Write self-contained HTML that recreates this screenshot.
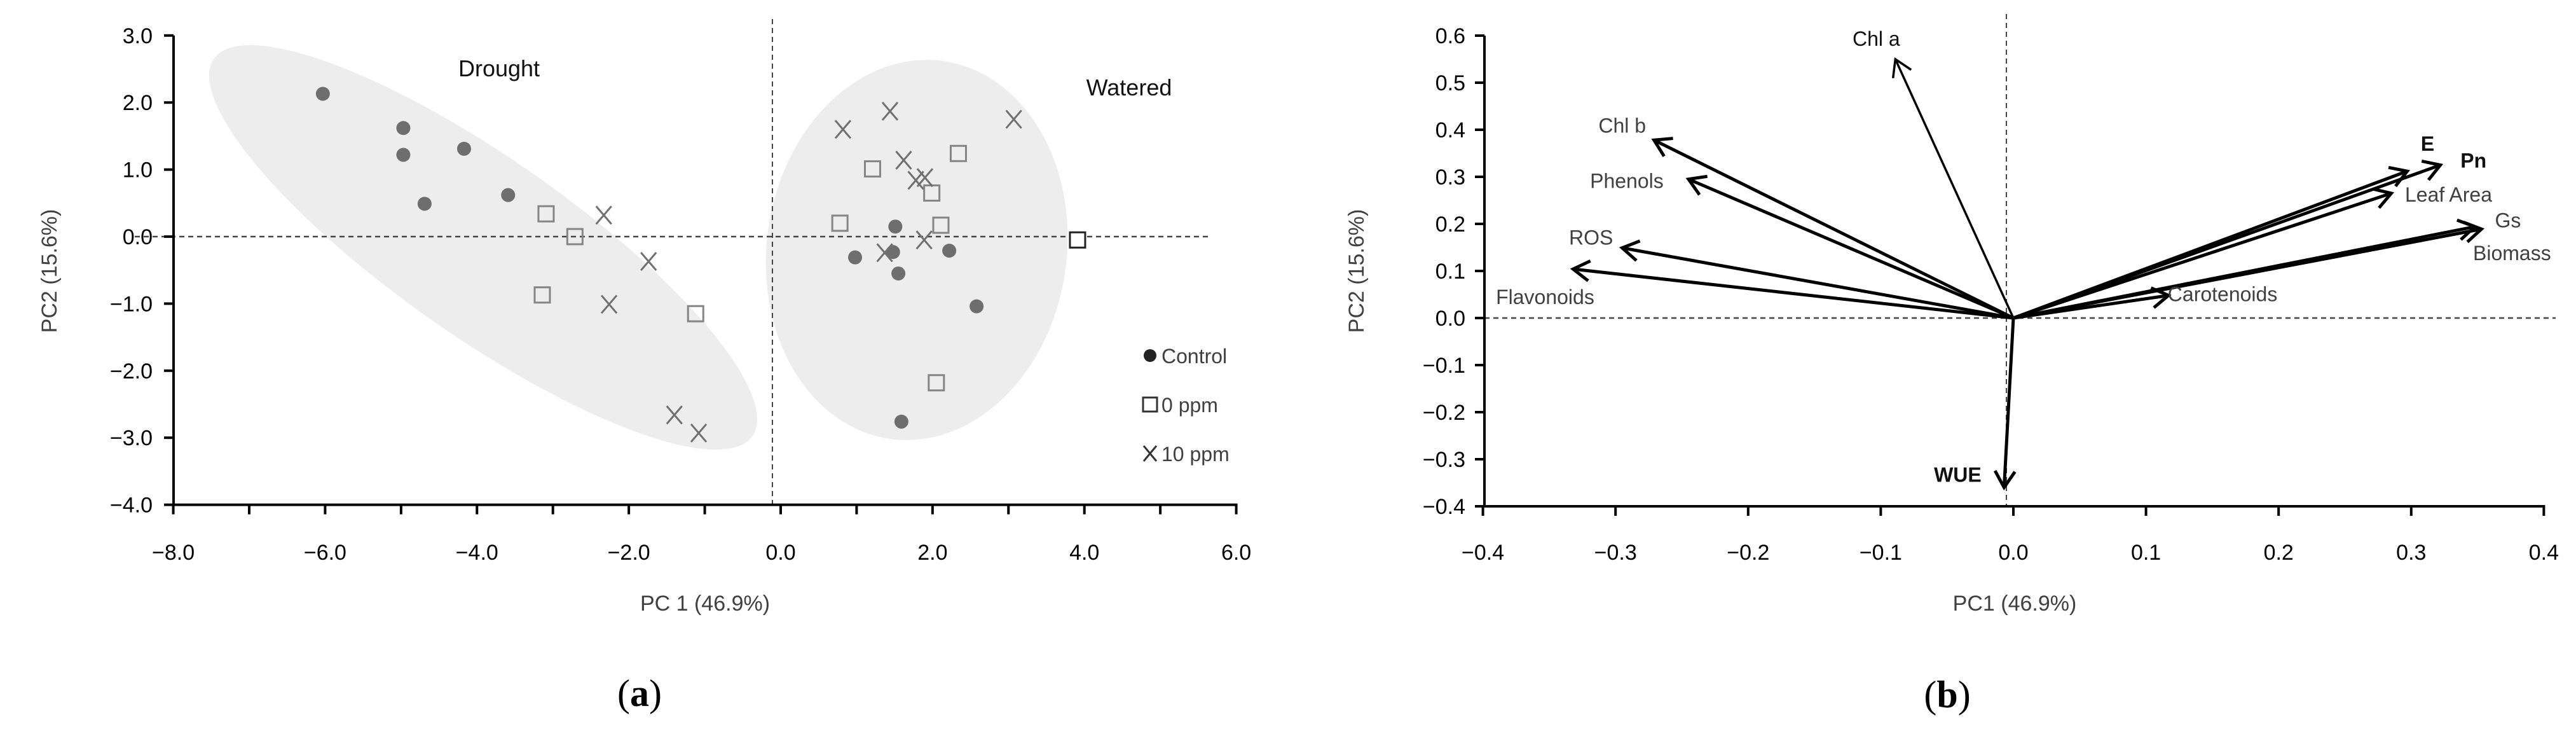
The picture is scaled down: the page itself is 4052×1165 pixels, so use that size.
<!DOCTYPE html>
<html><head><meta charset="utf-8"><style>
html,body{margin:0;padding:0;background:#fff;}
svg{display:block;font-family:"Liberation Sans",sans-serif;}
</style></head><body>
<svg id="fig" width="4052" height="1165" viewBox="0 0 4052 1165" xmlns="http://www.w3.org/2000/svg">
<g id="pa"></g>
<g id="pb"></g>
</svg>
<script>
// ---- Panel (a) data ----
const controlX = [-6.03,-4.97,-4.97,-4.17,-4.69,-3.59,1.51,0.98,1.48,1.55,2.22,2.58,1.59];
const controlY = [2.13,1.62,1.22,1.31,0.49,0.62,0.15,-0.31,-0.23,-0.55,-0.21,-1.04,-2.76];
const ppm0X = [-3.09,-2.71,-3.14,-1.12,0.78,1.21,1.99,2.11,2.34,2.05];
const ppm0Y = [0.34,0.0,-0.87,-1.15,0.20,1.01,0.65,0.17,1.24,-2.18];
const outlierX = [3.91];
const outlierY = [-0.05];
const ppm10X = [-2.33,-1.74,-2.26,-1.40,-1.08,0.82,1.44,1.62,1.78,1.90,1.89,1.37,3.07];
const ppm10Y = [0.32,-0.37,-1.01,-2.66,-2.93,1.60,1.87,1.14,0.84,0.88,-0.05,-0.24,1.75];
const aXTicks = ["-8.0","-6.0","-4.0","-2.0","0.0","2.0","4.0","6.0"];
const aYTicks = ["3.0","2.0","1.0","0.0","-1.0","-2.0","-3.0","-4.0"];
// ---- Panel (b) data ----
const loadNames = ["Chl a","Chl b","Phenols","ROS","Flavonoids","WUE","E","Pn","Leaf Area","Gs","Biomass","Carotenoids"];
const loadPC1 = [-0.089,-0.271,-0.245,-0.295,-0.332,-0.007,0.297,0.322,0.285,0.348,0.353,0.117];
const loadPC2 = [0.55,0.378,0.295,0.149,0.104,-0.36,0.312,0.325,0.265,0.194,0.189,0.048];
const bXTicks = ["-0.4","-0.3","-0.2","-0.1","0.0","0.1","0.2","0.3","0.4"];
const bYTicks = ["0.6","0.5","0.4","0.3","0.2","0.1","0.0","-0.1","-0.2","-0.3","-0.4"];

const NS="http://www.w3.org/2000/svg";
function mk(parent,tag,attrs,text){const e=document.createElementNS(NS,tag);for(const k in attrs)e.setAttribute(k,attrs[k]);if(text!==undefined)e.textContent=text;parent.appendChild(e);return e;}
const minus=s=>s.replace("-","\u2212");

// ===== Panel A =====
const A=document.getElementById('pa');
const ax=v=>1228+v*119.43, ay=v=>372-v*105.4;
let e;
e=mk(A,'ellipse',{cx:760,cy:389,rx:517,ry:140,transform:'rotate(35 760 389)',fill:'#ededed'});


e=mk(A,'ellipse',{cx:1442,cy:393,rx:236,ry:300,transform:'rotate(8 1442 393)',fill:'#ededed'});


mk(A,'line',{x1:212,y1:ay(0),x2:1904,y2:ay(0),stroke:'#444','stroke-width':2.5,'stroke-dasharray':'8 6'});
mk(A,'line',{x1:1215,y1:30,x2:1215,y2:ay(-4),stroke:'#444','stroke-width':2,'stroke-dasharray':'8 6'});
mk(A,'line',{x1:273,y1:ay(3),x2:273,y2:ay(-4)+2,stroke:'#000','stroke-width':4});
mk(A,'line',{x1:271,y1:ay(-4),x2:ax(6)+2,y2:ay(-4),stroke:'#000','stroke-width':4});
aYTicks.forEach((t,i)=>{const v=parseFloat(t);mk(A,'line',{x1:258,y1:ay(v),x2:273,y2:ay(v),stroke:'#000','stroke-width':4});
 e=mk(A,'text',{x:240,y:ay(v)+12,'text-anchor':'end','font-size':34},minus(t));
 
 });
for(let v=-8;v<=6;v++){mk(A,'line',{x1:ax(v),y1:ay(-4),x2:ax(v),y2:ay(-4)+15,stroke:'#000','stroke-width':4});}
aXTicks.forEach(t=>{const v=parseFloat(t);
 e=mk(A,'text',{x:ax(v),y:880,'text-anchor':'middle','font-size':34},minus(t));
 
 });
e=mk(A,'text',{x:1109,y:960,'text-anchor':'middle','font-size':34,fill:'#404040'},'PC 1 (46.9%)');


e=mk(A,'text',{x:0,y:0,'text-anchor':'middle','font-size':34,fill:'#404040',transform:'translate(89 426) rotate(-90)'},'PC2 (15.6%)');


e=mk(A,'text',{x:785,y:120,'text-anchor':'middle','font-size':36,fill:'#111'},'Drought');


e=mk(A,'text',{x:1776,y:150,'text-anchor':'middle','font-size':36,fill:'#111'},'Watered');


controlX.forEach((x,i)=>{e=mk(A,'circle',{cx:ax(x),cy:ay(controlY[i]),r:11,fill:'#6e6e6e'});
 
 });
ppm0X.forEach((x,i)=>{e=mk(A,'rect',{x:ax(x)-12,y:ay(ppm0Y[i])-12,width:24,height:24,fill:'none',stroke:'#858585','stroke-width':3});
 
 });
outlierX.forEach((x,i)=>{e=mk(A,'rect',{x:ax(x)-12,y:ay(outlierY[i])-12,width:24,height:24,fill:'#fff',stroke:'#222','stroke-width':3});
 
 });
ppm10X.forEach((x,i)=>{const cx=ax(x),cy=ay(ppm10Y[i]);e=mk(A,'path',{d:`M${cx-12} ${cy-14}L${cx+12} ${cy+14}M${cx+12} ${cy-14}L${cx-12} ${cy+14}`,stroke:'#707070','stroke-width':3,fill:'none'});
 
 });
const lg=mk(A,'g',{});


mk(lg,'circle',{cx:1809,cy:559,r:10,fill:'#222'});
mk(lg,'text',{x:1827,y:571,'font-size':32,fill:'#404040'},'Control');
mk(lg,'rect',{x:1798,y:625,width:22,height:22,fill:'none',stroke:'#333','stroke-width':3});
mk(lg,'text',{x:1827,y:648,'font-size':32,fill:'#404040'},'0 ppm');
mk(lg,'path',{d:'M1799 701L1819 725M1819 701L1799 725',stroke:'#333','stroke-width':3});
mk(lg,'text',{x:1827,y:725,'font-size':32,fill:'#404040'},'10 ppm');
e=mk(A,'text',{x:1006,y:1110,'text-anchor':'middle','font-size':60,'font-family':'Liberation Serif, serif'},'');
e.innerHTML='(<tspan font-weight="bold">a</tspan>)';



// ===== Panel B =====
const B=document.getElementById('pb');
const bx=v=>3167+v*2086, by=v=>500-v*740;
mk(B,'line',{x1:2335,y1:by(0),x2:4020,y2:by(0),stroke:'#444','stroke-width':2.5,'stroke-dasharray':'8 6'});
mk(B,'line',{x1:3156,y1:22,x2:3156,y2:by(-0.4),stroke:'#444','stroke-width':2,'stroke-dasharray':'8 6'});
mk(B,'line',{x1:2335,y1:by(0.6),x2:2335,y2:by(-0.4)+2,stroke:'#000','stroke-width':4});
mk(B,'line',{x1:2333,y1:by(-0.4),x2:bx(0.4)+2,y2:by(-0.4),stroke:'#000','stroke-width':4});
bYTicks.forEach(t=>{const v=parseFloat(t);mk(B,'line',{x1:2320,y1:by(v),x2:2335,y2:by(v),stroke:'#000','stroke-width':4});
 e=mk(B,'text',{x:2305,y:by(v)+12,'text-anchor':'end','font-size':34},minus(t));
 
 });
bXTicks.forEach(t=>{const v=parseFloat(t);mk(B,'line',{x1:bx(v),y1:by(-0.4),x2:bx(v),y2:by(-0.4)+15,stroke:'#000','stroke-width':4});
 e=mk(B,'text',{x:bx(v),y:880,'text-anchor':'middle','font-size':34},minus(t));
 
 });
e=mk(B,'text',{x:3169,y:960,'text-anchor':'middle','font-size':34,fill:'#404040'},'PC1 (46.9%)');


e=mk(B,'text',{x:0,y:0,'text-anchor':'middle','font-size':34,fill:'#404040',transform:'translate(2145 426) rotate(-90)'},'PC2 (15.6%)');


const lblDX=[-30,-50,-97,-49,-44,-73,32,52,90,52,48,85];
const lblDY=[-32,-23,3,-16,44,-20,-43,-7,2,-10,38,-2];
const boldNames={"E":1,"Pn":1,"WUE":1};
loadNames.forEach((n,i)=>{
 const x2=bx(loadPC1[i]),y2=by(loadPC2[i]),x1=bx(0),y1=by(0);
 const ang=Math.atan2(y2-y1,x2-x1),h=30,sp=0.55;
 const p1=[x2-h*Math.cos(ang-sp),y2-h*Math.sin(ang-sp)],p2=[x2-h*Math.cos(ang+sp),y2-h*Math.sin(ang+sp)];
 e=mk(B,'path',{d:`M${x1} ${y1}L${x2} ${y2}M${p1[0]} ${p1[1]}L${x2} ${y2}L${p2[0]} ${p2[1]}`,stroke:'#000','stroke-width':n==="Chl a"?3.5:5,fill:'none'});
 
 
 e=mk(B,'text',{x:x2+lblDX[i],y:y2+lblDY[i]+11,'text-anchor':'middle','font-size':32,fill:(boldNames[n]||n==="Chl a")?'#111':'#404040','font-weight':boldNames[n]?'bold':'normal'},n);
 
 
});
e=mk(B,'text',{x:3063,y:1112,'text-anchor':'middle','font-size':60,'font-family':'Liberation Serif, serif'},'');
e.innerHTML='(<tspan font-weight="bold">b</tspan>)';


</script>
</body></html>
